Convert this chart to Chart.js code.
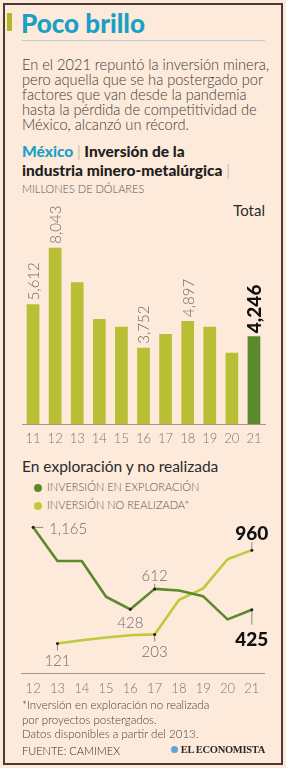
<!DOCTYPE html>
<html>
<head>
<meta charset="utf-8">
<script src="https://cdn.jsdelivr.net/npm/chart.js"></script>
<style>
  html, body { margin: 0; padding: 0; }
  body { width: 286px; height: 768px; background: #fdeadb; position: relative; overflow: hidden; font-family: "Lato", sans-serif; color: #3c3c3c; }
  .frame { position: absolute; left: 3px; top: 3px; width: 280px; height: 762px; box-sizing: border-box; border: 2px solid #4b3b33; }
  .abs { position: absolute; white-space: nowrap; }
  .accent { left: 7px; top: 13px; width: 5px; height: 18px; background: #b3b52a; }
  .title { left: 21px; top: 7px; font-size: 26px; font-weight: 900; color: #1b9fc6; }
  .rule { left: 22px; top: 40px; width: 243px; height: 1px; background: #b8cdd6; }
  .body { left: 22px; font-size: 14.6px; font-weight: 300; color: #3a3a3a; }
  .sub { left: 22px; font-size: 15.5px; font-weight: 900; color: #1e1e1e; }
  .sub .mx { color: #1b9fc6; }
  .sub .bar { color: #999; font-weight: 300; }
  .small { left: 22px; font-size: 11px; font-weight: 300; color: #555; }
  .total { right: 21px; top: 201px; font-size: 15px; color: #2a2a2a; }
  .sec { left: 22px; top: 457px; font-size: 15.5px; color: #2a2a2a; }
  .leg { left: 34px; font-size: 11px; font-weight: 300; color: #555; }
  .dot { display: inline-block; width: 8px; height: 8px; border-radius: 50%; margin-right: 5px; vertical-align: -1px; }
  .note { left: 22px; font-size: 11.5px; font-weight: 300; color: #444; }
  .logo { right: 21px; top: 744px; font-family: "Liberation Serif", serif; font-weight: 700; font-size: 10.5px; color: #2a2a2a; letter-spacing: -0.3px; }
  .logo .ic { display: inline-block; width: 7px; height: 7px; border-radius: 50%; background: #5aa7d6; margin-right: 3px; }
  canvas { position: absolute; left: 0; }
</style>
</head>
<body>
<div class="frame"></div>
<div class="abs accent"></div>
<div class="abs title">Poco brillo</div>
<div class="abs rule"></div>
<div class="abs body" style="top:56px">En el 2021 repuntó la inversión minera,</div>
<div class="abs body" style="top:71px">pero aquella que se ha postergado por</div>
<div class="abs body" style="top:86px">factores que van desde la pandemia</div>
<div class="abs body" style="top:101px">hasta la pérdida de competitividad de</div>
<div class="abs body" style="top:116px">México, alcanzó un récord.</div>
<div class="abs sub" style="top:142px"><span class="mx">México</span> <span class="bar">|</span> Inversión de la</div>
<div class="abs sub" style="top:161px">industria minero-metalúrgica <span class="bar">|</span></div>
<div class="abs small" style="top:182px">MILLONES DE DÓLARES</div>
<div class="abs total">Total</div>

<canvas id="barChart" width="286" height="250" style="top:200px"></canvas>

<div class="abs sec">En exploración y no realizada</div>
<div class="abs leg" style="top:480px"><span class="dot" style="background:#5b8a2c"></span>INVERSIÓN EN EXPLORACIÓN</div>
<div class="abs leg" style="top:498px"><span class="dot" style="background:#bccb3b"></span>INVERSIÓN NO REALIZADA*</div>

<canvas id="lineChart" width="286" height="190" style="top:510px"></canvas>

<div class="abs note" style="top:698px">*Inversión en exploración no realizada</div>
<div class="abs note" style="top:713px">por proyectos postergados.</div>
<div class="abs note" style="top:727px">Datos disponibles a partir del 2013.</div>
<div class="abs small" style="top:744px; color:#2a2a2a">FUENTE: CAMIMEX</div>
<div class="abs logo"><span class="ic"></span>EL ECONOMISTA</div>

<script>
// total investment, millions of dollars
const barYears = ["11", "12", "13", "14", "15", "16", "17", "18", "19", "20", "21"];
const totalInvestment = [5612, 8043, 6560, 4985, 4655, 3752, 4340, 4897, 4655, 3535, 4246];
const labeledBars = ["11", "12", "16", "18", "21"];

// exploration vs. postponed investment
const lineYears = ["12", "13", "14", "15", "16", "17", "18", "19", "20", "21"];
const exploration = [1165, 862, 862, 541, 428, 612, 598, 545, 338, 425];
const notRealized = [null, 121, 150, 175, 195, 203, 512, 617, 878, 960];
const lineNotes = [
  { set: 0, year: "12", text: "1,165", pos: "right" },
  { set: 0, year: "16", text: "428", pos: "below" },
  { set: 0, year: "17", text: "612", pos: "above" },
  { set: 0, year: "21", text: "425", pos: "below", bold: true },
  { set: 1, year: "13", text: "121", pos: "below" },
  { set: 1, year: "17", text: "203", pos: "below" },
  { set: 1, year: "21", text: "960", pos: "above", bold: true },
];

const LIGHT = "#b8bf35";
const DARK = "#5b8a2c";
const LINE_LIGHT = "#bccb3b";
const GRAY = "#6e6e6e";

function fmt(v) {
  return v.toLocaleString("en-US");
}

const barLabelPlugin = {
  id: "barLabels",
  afterDatasetsDraw(chart) {
    const ctx = chart.ctx;
    const meta = chart.getDatasetMeta(0);
    ctx.save();
    meta.data.forEach((bar, i) => {
      if (!labeledBars.includes(barYears[i])) return;
      const last = i === barYears.length - 1;
      ctx.save();
      ctx.translate(bar.x, bar.y - (last ? 3 : 4));
      ctx.rotate(-Math.PI / 2);
      ctx.textAlign = "left";
      ctx.textBaseline = "middle";
      ctx.fillStyle = last ? "#111" : GRAY;
      ctx.font = last ? "900 19px Lato" : "300 15px Lato";
      ctx.fillText(fmt(totalInvestment[i]), 0, 1);
      ctx.restore();
    });
    ctx.restore();
  }
};

new Chart(document.getElementById("barChart"), {
  type: "bar",
  data: {
    labels: barYears,
    datasets: [{
      data: totalInvestment,
      base: 476,
      backgroundColor: barYears.map((y, i) => (i === barYears.length - 1 ? DARK : LIGHT)),
      barPercentage: 0.575,
      categoryPercentage: 1
    }]
  },
  options: {
    responsive: false,
    animation: false,
    layout: { padding: { left: 22, right: 21, top: 14, bottom: 0 } },
    plugins: { legend: { display: false }, tooltip: { enabled: false } },
    scales: {
      y: { display: false, min: 476, max: 9490 },
      x: {
        afterFit: (s) => { s.height = 26; },
        grid: { display: false, drawTicks: false },
        border: { display: true, color: "#a09a8c", width: 1 },
        ticks: { padding: 7, color: "#777", font: { family: "Lato", size: 13, weight: "300" } }
      }
    }
  },
  plugins: [barLabelPlugin]
});

const lineNotePlugin = {
  id: "lineNotes",
  afterDatasetsDraw(chart) {
    const ctx = chart.ctx;
    ctx.save();
    lineNotes.forEach((n) => {
      const pt = chart.getDatasetMeta(n.set).data[lineYears.indexOf(n.year)];
      const x = pt.x, y = pt.y;
      ctx.strokeStyle = "#8a8a8a";
      ctx.lineWidth = 1;
      ctx.fillStyle = n.bold ? "#111" : GRAY;
      ctx.font = n.bold ? "900 19px Lato" : "300 15px Lato";
      ctx.textBaseline = "middle";
      ctx.beginPath();
      if (n.pos === "right") {
        ctx.moveTo(x + 2, y); ctx.lineTo(x + 10, y);
        ctx.stroke();
        ctx.textAlign = "left";
        ctx.fillText(n.text, x + 16, y + 2);
      } else if (n.pos === "above") {
        const tick = n.bold ? 8 : 5;
        ctx.moveTo(x, y - 1); ctx.lineTo(x, y - tick);
        ctx.stroke();
        ctx.textAlign = "center";
        ctx.fillText(n.text, x, y - (n.bold ? 16 : 13));
      } else {
        const tick = n.bold ? 15 : 7;
        if (n.text !== "428") { ctx.moveTo(x, y + 1); ctx.lineTo(x, y + tick); ctx.stroke(); }
        ctx.textAlign = "center";
        ctx.fillText(n.text, x, y + (n.bold ? 30 : (n.text === "428" ? 14 : 18)));
      }
      ctx.fillStyle = "#222";
      ctx.beginPath();
      ctx.arc(x, y, 1.5, 0, Math.PI * 2);
      ctx.fill();
    });
    ctx.restore();
  }
};

new Chart(document.getElementById("lineChart"), {
  type: "line",
  data: {
    labels: lineYears,
    datasets: [
      { data: exploration, borderColor: DARK, borderWidth: 2.6, pointRadius: 0, tension: 0, borderJoinStyle: "round" },
      { data: notRealized, borderColor: LINE_LIGHT, borderWidth: 2.6, pointRadius: 0, tension: 0, borderJoinStyle: "round" }
    ]
  },
  options: {
    responsive: false,
    animation: false,
    layout: { padding: { left: 21, right: 22, top: 10, bottom: 0 } },
    plugins: { legend: { display: false }, tooltip: { enabled: false } },
    scales: {
      y: { display: false, min: -144, max: 1231 },
      x: {
        offset: true,
        afterFit: (s) => { s.height = 27; },
        grid: { display: false, drawTicks: false },
        border: { display: true, color: "#a09a8c", width: 1 },
        ticks: { padding: 8, color: "#777", font: { family: "Lato", size: 13, weight: "300" } }
      }
    }
  },
  plugins: [lineNotePlugin]
});
</script>
</body>
</html>
